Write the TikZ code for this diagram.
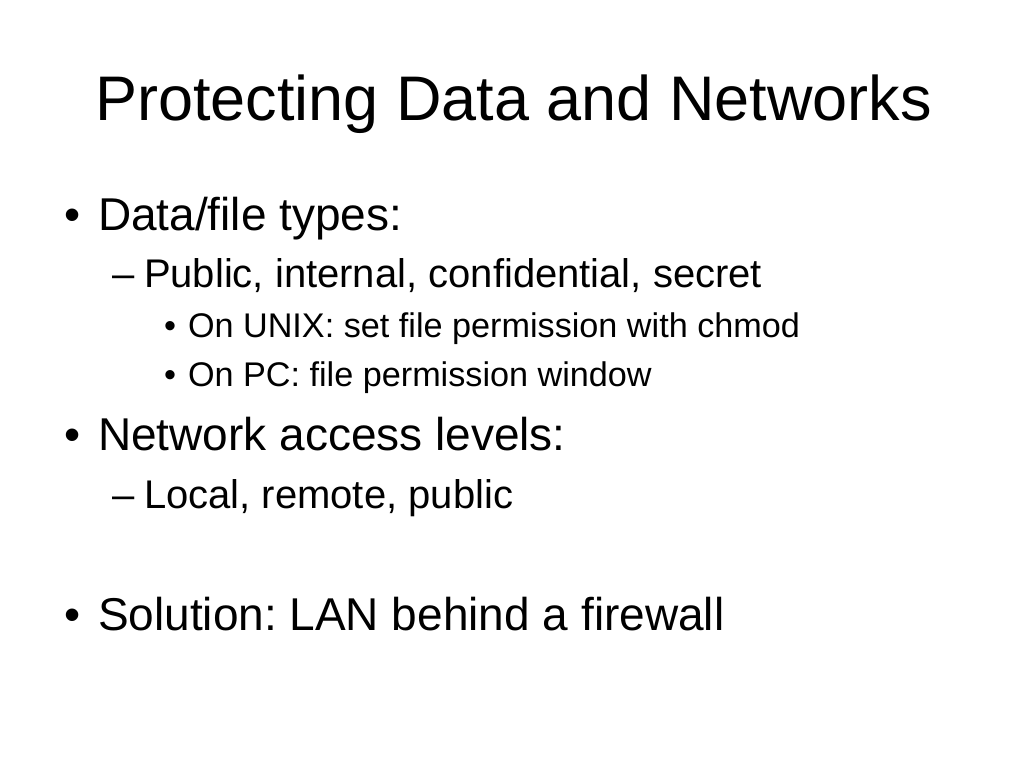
\documentclass[tikz,border=0pt]{standalone}
\usepackage{fontspec}
\setmainfont{Liberation Sans}
\frenchspacing
\begin{document}
\begin{tikzpicture}[x=1pt,y=-1pt,
  txt/.style={anchor=base west, inner sep=0pt, outer sep=0pt, text=black},
  ttl/.style={txt, font=\fontsize{63}{70}\selectfont},
  lone/.style={txt, font=\fontsize{46}{52}\selectfont},
  ltwo/.style={txt, font=\fontsize{40}{46}\selectfont},
  lthree/.style={txt, font=\fontsize{34.2}{40}\selectfont}]
\fill[white] (0,0) rectangle (1024,768);
\useasboundingbox (0,0) rectangle (1024,768);
\node[ttl] (title) at (95,120) {Protecting Data and Networks};
% level 1: Data/file types
\node[lone] (b1) at (64,230) {•};
\node[lone] (t1) at (98,230) {Data/file types:};
\node[ltwo] (d1) at (112,287) {–};
\node[ltwo] (t11) at (144,287) {Public, internal, confidential, secret};
\node[lthree] (b111) at (164,337) {•};
\node[lthree] (t111) at (188,337) {On UNIX: set file permission with chmod};
\node[lthree] (b112) at (164,386) {•};
\node[lthree] (t112) at (188,386) {On PC: file permission window};
% level 1: Network access levels
\node[lone] (b2) at (64,450) {•};
\node[lone] (t2) at (98,450) {Network access levels:};
\node[ltwo] (d2) at (112,508) {–};
\node[ltwo] (t21) at (144,508) {Local, remote, public};
% level 1: Solution
\node[lone] (b3) at (64,630) {•};
\node[lone] (t3) at (98,630) {Solution: LAN behind a firewall};
\end{tikzpicture}
\end{document}
